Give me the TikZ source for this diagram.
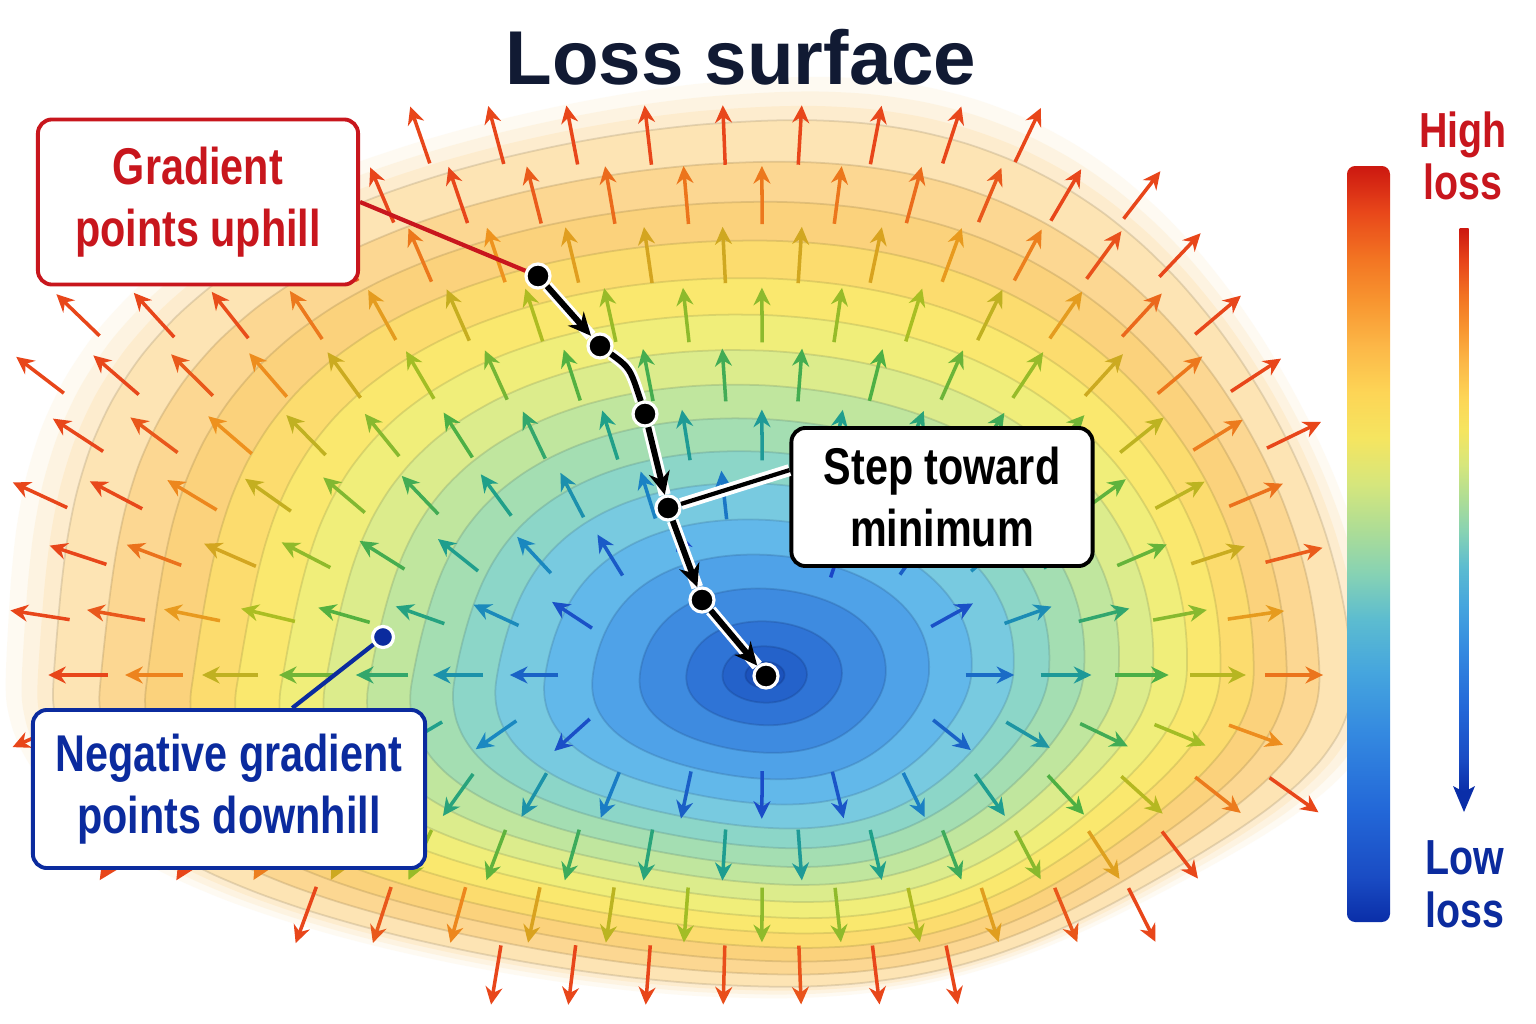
\documentclass[tikz,border=0pt]{standalone}
\usepackage{fontspec}
\setmainfont{Liberation Sans}
\newfontfamily\labfont{Liberation Sans}[FakeStretch=0.8]
\usetikzlibrary{arrows.meta}
\definecolor{lossred}{HTML}{C8161D}
\definecolor{lossblue}{HTML}{0B2B9E}
\definecolor{titlecol}{HTML}{111A33}
\definecolor{halo}{HTML}{FDE6BC}
\definecolor{L1}{HTML}{FDE4B4}
\definecolor{L2}{HTML}{FCD792}
\definecolor{L3}{HTML}{FBD27C}
\definecolor{L4}{HTML}{FCDC6E}
\definecolor{L5}{HTML}{FAE86E}
\definecolor{L6}{HTML}{F0EE7A}
\definecolor{L7}{HTML}{DCEC8C}
\definecolor{L8}{HTML}{C0E69E}
\definecolor{L9}{HTML}{A4DEB2}
\definecolor{L10}{HTML}{8CD6C8}
\definecolor{L11}{HTML}{78CAE0}
\definecolor{L12}{HTML}{62B8EA}
\definecolor{L13}{HTML}{4FA2E8}
\definecolor{L14}{HTML}{3E8BE0}
\definecolor{L15}{HTML}{2F74D6}
\definecolor{L16}{HTML}{2462CA}
\definecolor{L17}{HTML}{1B52BC}
\definecolor{a1}{HTML}{1A45C8}
\definecolor{a2}{HTML}{1A86C4}
\definecolor{a3}{HTML}{1FA08A}
\definecolor{a4}{HTML}{4DB043}
\definecolor{a5}{HTML}{AABE22}
\definecolor{a6}{HTML}{EE961E}
\definecolor{a7}{HTML}{E8461A}
\definecolor{a8}{HTML}{E8461A}
\definecolor{cb0}{HTML}{0A2EA8}
\definecolor{cb1}{HTML}{1A4CC4}
\definecolor{cb2}{HTML}{2368D8}
\definecolor{cb3}{HTML}{3489E0}
\definecolor{cb4}{HTML}{45A5DE}
\definecolor{cb5}{HTML}{5CBCD0}
\definecolor{cb6}{HTML}{86D2B4}
\definecolor{cb7}{HTML}{AEDD95}
\definecolor{cb8}{HTML}{D6E67C}
\definecolor{cb9}{HTML}{F5E560}
\definecolor{cb10}{HTML}{FDD556}
\definecolor{cb11}{HTML}{FCB848}
\definecolor{cb12}{HTML}{F89630}
\definecolor{cb13}{HTML}{F27322}
\definecolor{cb14}{HTML}{E8461A}
\definecolor{cb15}{HTML}{CC1810}
\pgfdeclareverticalshading{lossbar}{100bp}{color(0bp)=(cb0); color(25bp)=(cb0); color(28bp)=(cb1); color(32.5bp)=(cb2); color(37.5bp)=(cb3); color(41.5bp)=(cb4); color(45bp)=(cb5); color(48bp)=(cb6); color(51bp)=(cb7); color(54bp)=(cb8); color(57bp)=(cb9); color(60bp)=(cb10); color(63bp)=(cb11); color(66bp)=(cb12); color(69bp)=(cb13); color(72bp)=(cb14); color(75bp)=(cb15); color(100bp)=(cb15)}
\tikzset{
  callout/.style={draw, fill=white, rounded corners=4pt, line width=1.1pt, align=center, inner sep=0pt, font=\labfont\bfseries\fontsize{14.7}{17.5}\selectfont},
  sidelabel/.style={align=center, inner sep=0pt, font=\labfont\bfseries\fontsize{14}{15}\selectfont},
  vec/.style={line width=1pt, -{Stealth[length=5pt,width=4.8pt]}},
  stepdot/.style={circle, fill=black, draw=white, line width=0.9pt, minimum size=0.24cm, inner sep=0pt},
  casing/.style={white, line width=3.4pt},
  stepline/.style={black, line width=1.7pt},
  stephead/.style={-{Stealth[length=6.5pt,width=6pt]}},
  contour/.style={line width=0.5pt, draw opacity=0.35}
}
\begin{document}
\begin{tikzpicture}[x=0.01cm, y=-0.01cm,
  declare function={
    radx(\p,\q)=\q*((cos(\p)>=0)*(650*(1-\q)+565*\q)+(cos(\p)<0)*(650*(1-\q)+740*\q));
    rady(\p,\q)=\q*((sin(\p)>=0)*(435*(1-\q)+320*\q)+(sin(\p)<0)*(435*(1-\q)+540*\q));
    wob(\p,\q)=1+\q*(0.03*sin(3*\p+40)+0.02*sin(5*\p+100)+0.10*(1-\q)*sin(4*\p+200)+0.08*(sin(2*\p))^2*(sin(\p)<0)*(cos(\p)>0)+0.03*(sin(2*\p))^2*(sin(\p)<0)*(cos(\p)<=0)-0.08*(sin(2*\p))^2*(sin(\p)>0)*(cos(\p)<0)-0.05*(sin(2*\p))^2*(sin(\p)>0)*(cos(\p)>=0));
  }]
\useasboundingbox (0,0) rectangle (1536,1024);
\fill[white] (0,0) rectangle (1536,1024);

% ---- loss surface: faded edge and contour bands
\foreach \t/\op in {1.06/0.18, 1.04/0.3, 1.02/0.5}{
  \fill[halo, opacity=\op] plot[smooth cycle, variable=\a, domain=0:355, samples=72]
    ({765+radx(\a,\t)*cos(\a)*wob(\a,\t)},{675+rady(\a,\t)*sin(\a)*wob(\a,\t)});
}
\foreach \t/\c in {1.00/L1, 0.94/L2, 0.88/L3, 0.82/L4, 0.76/L5, 0.70/L6, 0.64/L7, 0.58/L8, 0.52/L9, 0.46/L10, 0.40/L11, 0.33/L12, 0.26/L13, 0.19/L14, 0.12/L15, 0.065/L16, 0.03/L17}{
  \filldraw[contour, fill=\c, draw=\c!70!black] plot[smooth cycle, variable=\a, domain=0:355, samples=72]
    ({765+radx(\a,\t)*cos(\a)*wob(\a,\t)},{675+rady(\a,\t)*sin(\a)*wob(\a,\t)});
}

% ---- gradient field (arrows on a staggered grid, pointing uphill)
\foreach \rr in {0,...,14}{
  \foreach \cc in {0,...,17}{
    \pgfmathsetmacro\gpx{40+76*\cc+38*mod(\rr,2)}
    \pgfmathsetmacro\gpy{135+60*\rr}
    \pgfmathsetmacro\ddx{\gpx-765}
    \pgfmathsetmacro\ddy{\gpy-675}
    \pgfmathsetmacro\Rxo{(\ddx>=0)*565+(\ddx<0)*740}
    \pgfmathsetmacro\Ryo{(\ddy>=0)*320+(\ddy<0)*540}
    \pgfmathsetmacro\tA{veclen(\ddx/\Rxo,\ddy/\Ryo)}
    \pgfmathsetmacro\Rx{650*(1-\tA)+\Rxo*\tA}
    \pgfmathsetmacro\Ry{435*(1-\tA)+\Ryo*\tA}
    \pgfmathsetmacro\tB{veclen(\ddx/\Rx,\ddy/\Ry)}
    \pgfmathsetmacro\al{atan2(\ddy/\Ry,\ddx/\Rx)}
    \pgfmathsetmacro\tv{\tB/wob(\al,\tB)}
    \pgfmathtruncatemacro\ok{(\tv>0.27)*(\tv<1.08)*(\gpx<1305)}
    \ifnum\ok=1
      \pgfmathsetmacro\gx{\ddx/\Rx*1000/\Rx}
      \pgfmathsetmacro\gy{\ddy/\Ry*1000/\Ry}
      \pgfmathsetmacro\nn{veclen(\gx,\gy)}
      \pgfmathsetmacro\hl{(42+18*min(\tv,1))/2}
      \pgfmathsetmacro\ux{\hl*\gx/\nn}
      \pgfmathsetmacro\uy{\hl*\gy/\nn}
      \pgfmathsetmacro\sv{max(0,min(5.99,(\tv-0.30)/0.11))}
      \pgfmathtruncatemacro\ci{floor(\sv)+1}
      \pgfmathtruncatemacro\cj{\ci+1}
      \pgfmathtruncatemacro\cp{100*(1-(\sv-floor(\sv)))}
      \draw[vec, color=a\ci!\cp!a\cj] ({\gpx-(\ux)},{\gpy-(\uy)}) -- ({\gpx+\ux},{\gpy+\uy});
    \fi
  }
}

% ---- title
\node[font=\bfseries\fontsize{21.7}{26}\selectfont, text=titlecol] (title) at (741,57) {Loss surface};

% ---- descent path
\node[stepdot] (p1) at (538,276) {};
\node[stepdot] (p2) at (600,346) {};
\node[stepdot] (p3) at (645,414) {};
\node[stepdot] (p4) at (668,508) {};
\node[stepdot] (p5) at (702,600) {};
\node[stepdot] (p6) at (766,676) {};
\node[circle, fill=lossblue, draw=white, line width=0.9pt, minimum size=0.21cm, inner sep=0pt] (nd) at (383,637) {};

% ---- callouts
\node[callout, draw=lossred, text=lossred, minimum width=3.2cm, minimum height=1.65cm] (gbox) at (198,202) {Gradient\\points uphill};
\node[callout, draw=lossblue, text=lossblue, minimum width=3.92cm, minimum height=1.58cm] (nbox) at (229,789) {Negative gradient\\points downhill};
\node[callout, draw=black, text=black, minimum width=3.01cm, minimum height=1.38cm] (sbox) at (942,497) {Step toward\\minimum};

\draw[lossred, line width=1.2pt] (gbox.east) -- (p1);
\draw[lossblue, line width=1.2pt] (nbox.52) -- (nd);
\draw[casing] (sbox.170) -- (p4);
\draw[black, line width=1.2pt] (sbox.170) -- (p4);

\draw[casing] (p1) -- (p2);
\draw[casing] (p2) .. controls (630,368) .. (p3);
\draw[casing] (p3) -- (p4);
\draw[casing] (p4) -- (p5);
\draw[casing] (p5) -- (p6);
\draw[stepline, stephead] (p1) -- (p2);
\draw[stepline] (p2) .. controls (630,368) .. (p3);
\draw[stepline, stephead] (p3) -- (p4);
\draw[stepline, stephead] (p4) -- (p5);
\draw[stepline, stephead] (p5) -- (p6);

% ---- colour bar and legend
\shade[shading=lossbar, rounded corners=2.3pt] (1347,166) rectangle (1390,922);
\node[sidelabel, text=lossred] (high) at (1463,156) {High\\loss};
\node[sidelabel, text=lossblue] (low) at (1465,884) {Low\\loss};
\coordinate (cbtop) at (1464,228);
\coordinate (cbbot) at (1464,812);
\shade[shading=lossbar] ([xshift=-0.045cm]cbtop) rectangle ([xshift=0.045cm,yshift=0.2cm]cbbot);
\fill[cb0] (cbbot) -- ++(-11,-26) -- ++(11,6) -- ++(11,-6) -- cycle;
\end{tikzpicture}
\end{document}
